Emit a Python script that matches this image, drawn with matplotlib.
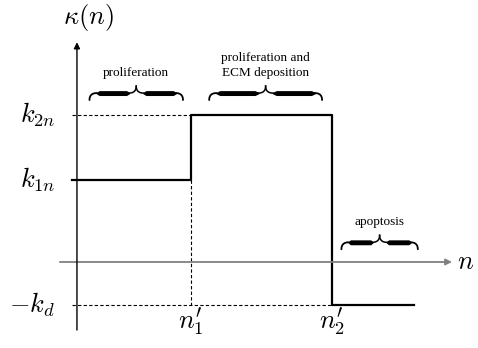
import matplotlib

matplotlib.use("Agg")
import matplotlib.pyplot as plt
import numpy as np

plt.rcParams["mathtext.fontset"] = "cm"

# step levels of kappa(n)
n1, n2, n_end = 1.0, 2.24, 2.96
k1n, k2n, kd = 1.0, 1.79, 0.52

step_x = [-0.044, n1, n1, n2, n2, n_end]
step_y = [k1n, k1n, k2n, k2n, -kd, -kd]

level_labels = [r"$k_{2n}$", r"$k_{1n}$", r"$-k_d$"]
level_values = [k2n, k1n, -kd]
n_labels = [r"$n_1'$", r"$n_2'$"]
n_values = [n1, n2]

# braces: (x start, x end, y base, label)
braces = [
    (0.11, 0.93, 2.06, "proliferation"),
    (1.16, 2.15, 2.06, "proliferation and\nECM deposition"),
    (2.32, 2.99, 0.24, "apoptosis"),
]


def draw_brace(ax, x0, x1, y, h=0.085, w=0.065):
    xm = (x0 + x1) / 2
    t = np.linspace(0, 1, 30)
    # left / right hooks
    hx = (1 - t) ** 2 * x0 + 2 * (1 - t) * t * x0 + t ** 2 * (x0 + w)
    hy = (1 - t) ** 2 * (y - h) + 2 * (1 - t) * t * y + t ** 2 * y
    ax.plot(hx, hy, color="black", lw=1.3, solid_capstyle="round")
    ax.plot(x0 + x1 - hx, hy, color="black", lw=1.3, solid_capstyle="round")
    # cusp
    cx = (1 - t) ** 2 * (xm - w) + 2 * (1 - t) * t * xm + t ** 2 * xm
    cy = (1 - t) ** 2 * y + 2 * (1 - t) * t * y + t ** 2 * (y + h)
    ax.plot(cx, cy, color="black", lw=1.1)
    ax.plot(2 * xm - cx, cy, color="black", lw=1.1)
    # tapered thick bars
    s = np.linspace(0, 1, 80)
    half = 0.007 + 0.023 * np.clip(np.sin(np.pi * s) * 3.5, 0, 1)
    for a, b in [(x0 + w * 0.9, xm - w * 0.9), (xm + w * 0.9, x1 - w * 0.9)]:
        bx = a + (b - a) * s
        ax.fill_between(bx, y - half, y + half, color="black", lw=0)


fig = plt.figure(figsize=(4.78, 3.48), dpi=100)
ax = fig.add_axes([0, 0, 1, 1])
ax.set_xlim(-0.675, 3.518)
ax.set_ylim(-1.049, 3.195)
ax.axis("off")

# axes arrows
ax.annotate("", xy=(3.29, 0), xytext=(-0.15, 0),
            arrowprops=dict(arrowstyle="-|>", color="#808080", lw=1.3,
                            mutation_scale=9, shrinkA=0, shrinkB=0))
ax.annotate("", xy=(0, 2.68), xytext=(0, -0.83),
            arrowprops=dict(arrowstyle="-|>", color="black", lw=1.0,
                            mutation_scale=9, shrinkA=0, shrinkB=0))

# dashed guides
dash = dict(color="black", lw=0.8, ls=(0, (3, 2)))
ax.plot([-0.044, n1], [k2n, k2n], **dash)
ax.plot([-0.044, n2], [-kd, -kd], **dash)
ax.plot([n1, n1], [k1n, -kd], **dash)

# step function
ax.plot(step_x, step_y, color="black", lw=1.6)

for lab, v in zip(level_labels, level_values):
    ax.text(-0.19, v, lab, ha="right", va="center", fontsize=19)
for lab, v in zip(n_labels, n_values):
    ax.text(v, -0.73, lab, ha="center", va="center", fontsize=19)
ax.text(0.10, 2.98, r"$\kappa(n)$", ha="center", va="center", fontsize=19)
ax.text(3.33, 0.0, r"$n$", ha="left", va="center", fontsize=19)

for x0, x1, y, lab in braces:
    draw_brace(ax, x0, x1, y)
    ax.text((x0 + x1) / 2, y + 0.17, lab, ha="center", va="bottom",
            fontsize=9.5, family="Liberation Serif", linespacing=1.4)

fig.savefig("out.png", dpi=100)
